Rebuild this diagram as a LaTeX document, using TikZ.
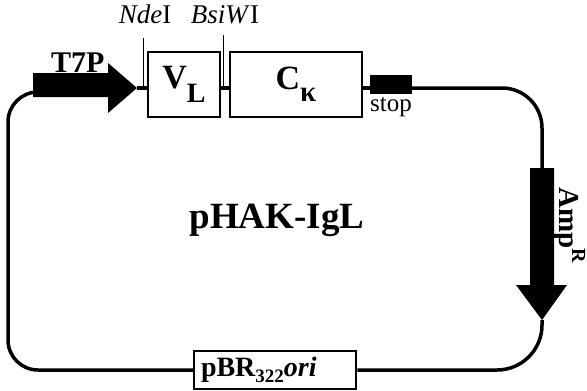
\documentclass[tikz,border=0pt]{standalone}
\usepackage{fontspec}
\setmainfont{Liberation Serif}
\usetikzlibrary{positioning}

\tikzset{
  dna/.style={line width=3.5pt},
  gene/.style={draw, line width=1.8pt, inner sep=0pt},
  site/.style={line width=1pt},
}

\begin{document}
\begin{tikzpicture}[x=1pt,y=-1pt]
  \useasboundingbox (0,0) rectangle (587,391);

  \coordinate (ax) at (0,88);
  \coordinate (tl) at (8,92);
  \coordinate (bl) at (8,370);
  \coordinate (br) at (542,370);
  \coordinate (tr) at (542,88);
  \coordinate (t7ptail) at (40,92);
  \coordinate (t7ptip) at (137,88);
  \coordinate (amptail) at (542,168);
  \coordinate (amptip) at (542,320);

  % genes on the plasmid
  \node (vl) [gene, minimum width=72pt, minimum height=65pt] at (184,84.5)
    {\fontsize{34}{34}\selectfont\bfseries V\raisebox{-0.4em}{\fontsize{28}{28}\selectfont L}};
  \node (ck) [gene, minimum width=132pt, minimum height=65pt] at (296,84.5)
    {\fontsize{34}{34}\selectfont\bfseries C\raisebox{-0.35em}{\fontsize{29}{29}\selectfont κ}};
  \node (stop) [fill, inner sep=0pt, minimum width=42pt, minimum height=19pt] at (391,84.5) {};
  \node (stoplbl) [below=3pt of stop, inner sep=0pt, font=\fontsize{25}{25}\selectfont] {stop};
  \node (pbr) [gene, line width=2.5pt, inner xsep=7pt, text width=148pt, align=left, minimum height=38pt] at (275,370)
    {\fontsize{28}{28}\selectfont\bfseries pBR\raisebox{-0.2em}{\fontsize{19}{19}\selectfont 322}\textit{ori}};

  % backbone
  \draw[dna, rounded corners=30pt] (t7ptail) -- (tl) -- (bl) -- (pbr.west);
  \draw[dna, rounded corners=45pt] (pbr.east) -- (br) -- (amptip);
  \draw[dna, rounded corners=40pt] (amptail) -- (tr) -- (stop.east |- ax);
  \draw[dna] (stop.west |- ax) -- (ck.east |- ax);
  \draw[dna] (ck.west |- ax) -- (vl.east |- ax);
  \draw[dna] (vl.west |- ax) -- (t7ptip);

  % promoter and resistance arrows
  \fill (33,73) -- (108,73) -- (108,63) -- (t7ptip) -- (108,113) -- (108,97) -- (33,97) -- cycle;
  \fill (530,168) -- (554,168) -- (554,285) -- (567,285) -- (amptip) -- (516,285) -- (530,285) -- cycle;

  \node (t7plbl) [anchor=base west, inner sep=0pt, font=\fontsize{30}{30}\selectfont\bfseries] at (51,72) {T7P};
  \node (amplbl) [anchor=base west, inner sep=0pt, rotate=-90, font=\fontsize{29}{29}\selectfont\bfseries]
    at (559,187) {Amp\raisebox{0.45em}{\fontsize{20}{20}\selectfont R}};

  % cloning sites
  \foreach \x/\y/\name/\txt in {
    143/38/nde/{\textit{Nde}I},
    223/35/bsi/{\textit{BsiW}I}
  }{
    \draw[site] (\x,\y) -- (\x,88);
    \node (\name) [anchor=base, inner sep=0pt, font=\fontsize{27}{27}\selectfont] at (\x+2,23) {\txt};
  }

  \node (title) [anchor=base, inner sep=0pt, font=\fontsize{37}{37}\selectfont\bfseries] at (277,228) {pHAK-IgL};
\end{tikzpicture}
\end{document}
